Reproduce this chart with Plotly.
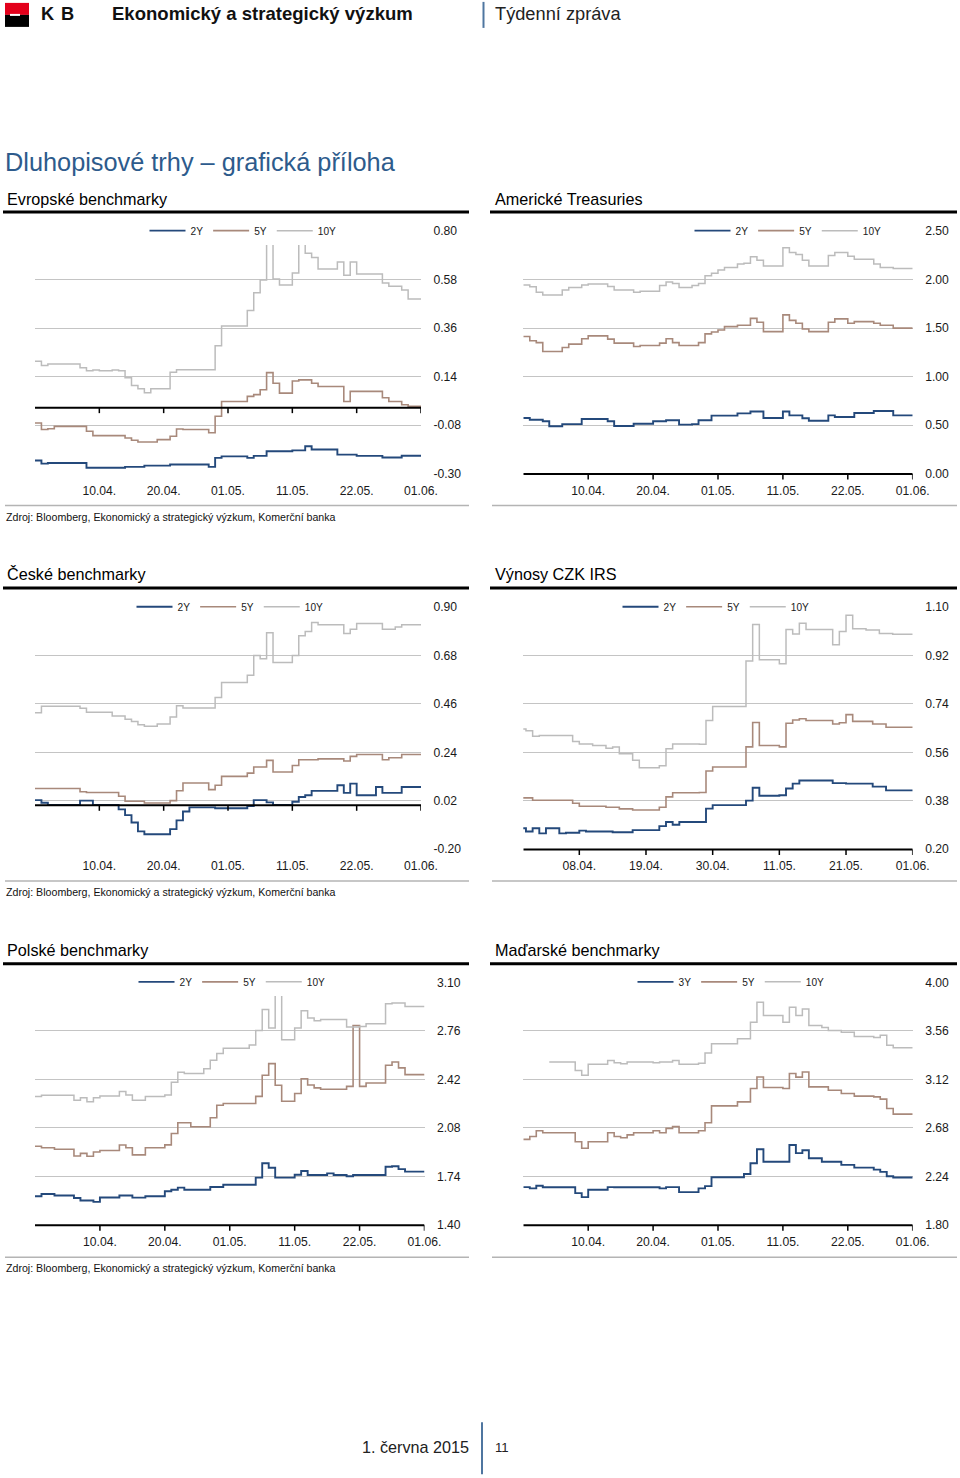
import plotly.graph_objects as go

W, H = 960, 1478
FONT = "Liberation Sans, Arial, Helvetica, sans-serif"

# ---------------- data (index of observations 0..60) ----------------
x_idx = list(range(61))

eur_2y = [-0.241, -0.255, -0.252, -0.252, -0.252, -0.252, -0.252, -0.252, -0.274, -0.274,
          -0.274, -0.274, -0.274, -0.274, -0.27, -0.27, -0.27, -0.264, -0.264, -0.264,
          -0.264, -0.259, -0.259, -0.259, -0.259, -0.259, -0.259, -0.27, -0.229, -0.222,
          -0.222, -0.222, -0.222, -0.229, -0.22, -0.22, -0.199, -0.199, -0.199, -0.199,
          -0.195, -0.195, -0.176, -0.191, -0.191, -0.191, -0.191, -0.214, -0.214, -0.214,
          -0.22, -0.22, -0.22, -0.22, -0.227, -0.227, -0.227, -0.219, -0.219, -0.219, -0.219]
eur_5y = [-0.071, -0.10, -0.097, -0.086, -0.086, -0.086, -0.086, -0.086, -0.108, -0.128,
          -0.128, -0.128, -0.128, -0.128, -0.139, -0.149, -0.157, -0.157, -0.157, -0.146,
          -0.146, -0.131, -0.098, -0.10, -0.10, -0.10, -0.10, -0.115, -0.04, 0.027,
          0.027, 0.027, 0.027, 0.05, 0.058, 0.08, 0.158, 0.11, 0.065, 0.065,
          0.12, 0.125, 0.125, 0.11, 0.095, 0.095, 0.095, 0.095, 0.027, 0.073,
          0.073, 0.073, 0.073, 0.073, 0.044, 0.027, 0.027, 0.012, 0.005, 0.005, 0.005]
eur_10y = [0.21, 0.19, 0.197, 0.197, 0.197, 0.197, 0.197, 0.18, 0.166, 0.17,
           0.166, 0.166, 0.17, 0.166, 0.135, 0.10, 0.085, 0.067, 0.085, 0.085,
           0.085, 0.16, 0.171, 0.171, 0.171, 0.171, 0.171, 0.171, 0.28, 0.37,
           0.37, 0.37, 0.37, 0.44, 0.52, 0.578, 0.74, 0.583, 0.556, 0.556,
           0.61, 0.74, 0.70, 0.68, 0.628, 0.628, 0.628, 0.66, 0.60, 0.66,
           0.605, 0.605, 0.605, 0.605, 0.565, 0.55, 0.55, 0.533, 0.492, 0.492, 0.492]

us_2y = [0.573, 0.555, 0.555, 0.54, 0.487, 0.487, 0.51, 0.51, 0.51, 0.563,
         0.563, 0.563, 0.563, 0.54, 0.49, 0.49, 0.49, 0.514, 0.514, 0.514,
         0.54, 0.54, 0.55, 0.55, 0.504, 0.504, 0.51, 0.55, 0.55, 0.597,
         0.597, 0.597, 0.597, 0.62, 0.62, 0.64, 0.64, 0.573, 0.573, 0.573,
         0.64, 0.60, 0.60, 0.57, 0.545, 0.545, 0.545, 0.60, 0.583, 0.583,
         0.583, 0.624, 0.624, 0.624, 0.645, 0.645, 0.645, 0.60, 0.60, 0.60, 0.60]
us_5y = [1.413, 1.37, 1.35, 1.258, 1.258, 1.258, 1.30, 1.335, 1.335, 1.39,
         1.42, 1.42, 1.42, 1.386, 1.345, 1.345, 1.345, 1.31, 1.32, 1.32,
         1.32, 1.345, 1.39, 1.35, 1.32, 1.32, 1.32, 1.35, 1.44, 1.46,
         1.48, 1.515, 1.515, 1.53, 1.53, 1.60, 1.56, 1.464, 1.464, 1.464,
         1.636, 1.58, 1.55, 1.49, 1.464, 1.464, 1.464, 1.56, 1.595, 1.595,
         1.55, 1.567, 1.567, 1.567, 1.55, 1.53, 1.53, 1.50, 1.50, 1.50, 1.50]
us_10y = [1.944, 1.927, 1.87, 1.842, 1.842, 1.842, 1.893, 1.92, 1.92, 1.944,
          1.955, 1.955, 1.955, 1.93, 1.893, 1.893, 1.893, 1.87, 1.88, 1.88,
          1.88, 1.94, 1.975, 1.96, 1.92, 1.92, 1.94, 1.96, 2.04, 2.065,
          2.10, 2.126, 2.126, 2.16, 2.17, 2.235, 2.20, 2.14, 2.14, 2.14,
          2.33, 2.28, 2.26, 2.20, 2.14, 2.14, 2.14, 2.25, 2.28, 2.28,
          2.24, 2.209, 2.209, 2.209, 2.16, 2.126, 2.126, 2.116, 2.116, 2.116, 2.116]

cz_2y = [0.022, 0.01, 0.0, 0.0, 0.0, 0.0, 0.0, 0.02, 0.02, 0.0,
         0.0, 0.0, 0.0, -0.02, -0.046, -0.08, -0.12, -0.133, -0.133, -0.133,
         -0.133, -0.11, -0.07, -0.03, -0.011, -0.011, -0.011, -0.011, -0.015, -0.015,
         -0.015, -0.015, -0.015, -0.005, 0.022, 0.022, 0.012, 0.0, 0.0, 0.0,
         0.015, 0.036, 0.044, 0.064, 0.064, 0.064, 0.064, 0.09, 0.055, 0.097,
         0.044, 0.044, 0.044, 0.082, 0.055, 0.055, 0.055, 0.082, 0.082, 0.082, 0.082]
cz_5y = [0.075, 0.075, 0.075, 0.075, 0.075, 0.075, 0.075, 0.06, 0.057, 0.057,
         0.057, 0.057, 0.057, 0.04, 0.017, 0.017, 0.017, 0.009, 0.009, 0.009,
         0.009, 0.02, 0.065, 0.10, 0.10, 0.10, 0.10, 0.07, 0.09, 0.13,
         0.13, 0.13, 0.13, 0.145, 0.173, 0.173, 0.203, 0.15, 0.15, 0.15,
         0.18, 0.206, 0.206, 0.206, 0.21, 0.21, 0.21, 0.21, 0.20, 0.221,
         0.23, 0.23, 0.23, 0.23, 0.206, 0.215, 0.215, 0.23, 0.23, 0.23, 0.23]
cz_10y = [0.42, 0.449, 0.449, 0.449, 0.449, 0.449, 0.449, 0.44, 0.422, 0.422,
          0.422, 0.422, 0.405, 0.405, 0.39, 0.38, 0.365, 0.358, 0.358, 0.369,
          0.369, 0.40, 0.452, 0.441, 0.441, 0.441, 0.441, 0.441, 0.489, 0.557,
          0.557, 0.557, 0.557, 0.59, 0.68, 0.665, 0.784, 0.648, 0.648, 0.648,
          0.68, 0.77, 0.79, 0.83, 0.82, 0.82, 0.82, 0.82, 0.78, 0.80,
          0.826, 0.826, 0.826, 0.826, 0.80, 0.80, 0.81, 0.82, 0.82, 0.82, 0.82]

irs_2y = [0.277, 0.277, 0.265, 0.277, 0.258, 0.277, 0.277, 0.258, 0.26, 0.26,
          0.268, 0.265, 0.265, 0.265, 0.265, 0.262, 0.262, 0.262, 0.27, 0.27,
          0.27, 0.27, 0.285, 0.30, 0.29, 0.30, 0.30, 0.30, 0.30, 0.35,
          0.363, 0.363, 0.363, 0.363, 0.363, 0.38, 0.428, 0.398, 0.398, 0.398,
          0.40, 0.425, 0.443, 0.455, 0.455, 0.455, 0.455, 0.455, 0.445, 0.445,
          0.443, 0.443, 0.443, 0.443, 0.432, 0.432, 0.418, 0.418, 0.418, 0.418, 0.418]
irs_5y = [0.39, 0.39, 0.39, 0.381, 0.381, 0.381, 0.381, 0.381, 0.381, 0.37,
          0.359, 0.359, 0.359, 0.359, 0.355, 0.355, 0.349, 0.349, 0.345, 0.345,
          0.345, 0.345, 0.355, 0.394, 0.409, 0.409, 0.409, 0.409, 0.41, 0.49,
          0.505, 0.505, 0.505, 0.505, 0.505, 0.58, 0.671, 0.585, 0.585, 0.585,
          0.58, 0.668, 0.68, 0.685, 0.678, 0.678, 0.678, 0.678, 0.665, 0.67,
          0.70, 0.675, 0.675, 0.675, 0.665, 0.665, 0.653, 0.653, 0.653, 0.653, 0.653]
irs_10y = [0.647, 0.647, 0.64, 0.62, 0.622, 0.622, 0.622, 0.622, 0.622, 0.60,
           0.591, 0.591, 0.585, 0.585, 0.575, 0.58, 0.554, 0.554, 0.53, 0.502,
           0.502, 0.502, 0.51, 0.573, 0.591, 0.591, 0.591, 0.591, 0.59, 0.678,
           0.73, 0.73, 0.73, 0.73, 0.73, 0.90, 1.036, 0.904, 0.904, 0.904,
           0.89, 1.017, 1.0, 1.04, 1.017, 1.017, 1.017, 1.017, 0.96, 1.01,
           1.07, 1.02, 1.02, 1.015, 1.015, 1.002, 1.002, 0.999, 0.999, 0.999, 0.999]

pl_2y = [1.60, 1.615, 1.615, 1.605, 1.605, 1.605, 1.587, 1.57, 1.57, 1.56,
         1.591, 1.591, 1.591, 1.605, 1.605, 1.59, 1.59, 1.60, 1.60, 1.60,
         1.635, 1.645, 1.66, 1.645, 1.645, 1.645, 1.645, 1.665, 1.665, 1.68,
         1.68, 1.68, 1.68, 1.68, 1.73, 1.831, 1.80, 1.73, 1.73, 1.73,
         1.75, 1.777, 1.749, 1.749, 1.749, 1.76, 1.749, 1.749, 1.74, 1.749,
         1.749, 1.749, 1.749, 1.749, 1.807, 1.81, 1.79, 1.772, 1.772, 1.772, 1.772]
pl_5y = [1.95, 1.94, 1.94, 1.929, 1.929, 1.929, 1.882, 1.90, 1.88, 1.91,
         1.92, 1.92, 1.92, 1.959, 1.94, 1.89, 1.89, 1.94, 1.94, 1.94,
         1.96, 2.04, 2.115, 2.115, 2.087, 2.087, 2.087, 2.15, 2.238, 2.25,
         2.25, 2.25, 2.25, 2.25, 2.30, 2.448, 2.53, 2.378, 2.266, 2.266,
         2.32, 2.424, 2.38, 2.36, 2.35, 2.35, 2.35, 2.35, 2.37, 2.797,
         2.37, 2.394, 2.394, 2.394, 2.518, 2.541, 2.50, 2.453, 2.453, 2.453, 2.453]
pl_10y = [2.30, 2.308, 2.308, 2.308, 2.308, 2.308, 2.273, 2.29, 2.262, 2.29,
          2.303, 2.303, 2.303, 2.335, 2.31, 2.273, 2.273, 2.30, 2.30, 2.30,
          2.31, 2.40, 2.47, 2.46, 2.46, 2.46, 2.494, 2.553, 2.60, 2.638,
          2.638, 2.638, 2.638, 2.66, 2.762, 2.91, 2.78, 3.02, 2.697, 2.697,
          2.78, 2.90, 2.85, 2.83, 2.84, 2.84, 2.84, 2.84, 2.786, 2.786,
          2.79, 2.81, 2.81, 2.81, 2.95, 2.955, 2.955, 2.93, 2.93, 2.93, 2.93]

hu_3y = [2.141, 2.13, 2.153, 2.14, 2.14, 2.14, 2.14, 2.14, 2.087, 2.05,
         2.117, 2.117, 2.117, 2.141, 2.14, 2.14, 2.14, 2.14, 2.14, 2.14,
         2.14, 2.13, 2.141, 2.141, 2.096, 2.096, 2.096, 2.13, 2.15, 2.231,
         2.231, 2.231, 2.231, 2.231, 2.26, 2.358, 2.485, 2.372, 2.372, 2.372,
         2.372, 2.523, 2.45, 2.476, 2.403, 2.403, 2.372, 2.372, 2.372, 2.343,
         2.343, 2.318, 2.318, 2.318, 2.30, 2.28, 2.24, 2.228, 2.228, 2.228, 2.228]
hu_5y = [2.575, 2.60, 2.653, 2.635, 2.635, 2.635, 2.635, 2.635, 2.553, 2.494,
         2.553, 2.553, 2.553, 2.635, 2.60, 2.59, 2.615, 2.635, 2.635, 2.635,
         2.653, 2.635, 2.674, 2.69, 2.635, 2.635, 2.635, 2.653, 2.725, 2.879,
         2.879, 2.879, 2.879, 2.915, 2.915, 3.036, 3.141, 3.045, 3.045, 3.045,
         3.036, 3.172, 3.14, 3.186, 3.051, 3.051, 3.051, 3.021, 3.021, 2.991,
         2.991, 2.967, 2.967, 2.967, 2.96, 2.94, 2.855, 2.804, 2.804, 2.804, 2.804]
hu_10y = [None, None, None, None, 3.277, 3.277, 3.277, 3.277, 3.20, 3.156,
          3.256, 3.256, 3.256, 3.29, 3.27, 3.26, 3.277, 3.277, 3.277, 3.277,
          3.27, 3.277, 3.277, 3.29, 3.256, 3.256, 3.256, 3.265, 3.358, 3.443,
          3.443, 3.443, 3.443, 3.488, 3.488, 3.638, 3.819, 3.699, 3.699, 3.699,
          3.638, 3.774, 3.699, 3.759, 3.608, 3.608, 3.59, 3.563, 3.563, 3.548,
          3.548, 3.509, 3.509, 3.509, 3.50, 3.52, 3.428, 3.407, 3.407, 3.407, 3.407]

# tick labels
eur_xlabels = ["10.04.", "20.04.", "01.05.", "11.05.", "22.05.", "01.06."]
irs_xlabels = ["08.04.", "19.04.", "30.04.", "11.05.", "21.05.", "01.06."]
x_tickpos = [10, 20, 30, 40, 50, 60]

eur_yticks = [-0.30, -0.08, 0.14, 0.36, 0.58, 0.80]
us_yticks = [0.00, 0.50, 1.00, 1.50, 2.00, 2.50]
cz_yticks = [-0.20, 0.02, 0.24, 0.46, 0.68, 0.90]
irs_yticks = [0.20, 0.38, 0.56, 0.74, 0.92, 1.10]
pl_yticks = [1.40, 1.74, 2.08, 2.42, 2.76, 3.10]
hu_yticks = [1.80, 2.24, 2.68, 3.12, 3.56, 4.00]

names_a = ["2Y", "5Y", "10Y"]
names_hu = ["3Y", "5Y", "10Y"]

# ---------------- styles ----------------
COLORS = ["#24497b", "#a8897b", "#bcbcbc"]
WIDTHS = [1.9, 1.6, 1.5]
GRID = "#c4c4c4"

# canvas calibration: the photographed page area is slightly larger than 960x1478
# and is scaled to fit, so the figure is built on that larger canvas.
SX, SY, OY = 960 / 977, 0.991, 6.1
FW, FH = 977, 1485
FS = 1.013  # font compensation for the scaling


def px(x):
    return (x / SX) / FW


def py(y):
    return 1 - ((y - OY) / SY) / FH


def fs(v):
    return round(v * FS, 2)


panels = [
    dict(title="Evropské benchmarky", tx=5, ty=199, xd=(35, 421), yd=(230.7, 474), xr=(0, 60),
         yt=eur_yticks, xl=eur_xlabels, names=names_a, data=[eur_2y, eur_5y, eur_10y], lx=243),
    dict(title="Americké Treasuries", tx=493, ty=199, xd=(523.3, 912.7), yd=(230.7, 474), xr=(0, 60),
         yt=us_yticks, xl=eur_xlabels, names=names_a, data=[us_2y, us_5y, us_10y], lx=788),
    dict(title="České benchmarky", tx=5, ty=574, xd=(35, 421), yd=(606.7, 849.3), xr=(0, 60),
         yt=cz_yticks, xl=eur_xlabels, names=names_a, data=[cz_2y, cz_5y, cz_10y], lx=230),
    dict(title="Výnosy CZK IRS", tx=493, ty=574, xd=(523.3, 912.7), yd=(606.7, 849.3), xr=(1.6, 60),
         yt=irs_yticks, xl=irs_xlabels, names=names_a, data=[irs_2y, irs_5y, irs_10y], lx=716),
    dict(title="Polské benchmarky", tx=5, ty=950, xd=(35, 424.5), yd=(981.7, 1225), xr=(0, 60),
         yt=pl_yticks, xl=eur_xlabels, names=names_a, data=[pl_2y, pl_5y, pl_10y], lx=232),
    dict(title="Maďarské benchmarky", tx=493, ty=950, xd=(523.3, 912.7), yd=(981.7, 1225), xr=(0, 60),
         yt=hu_yticks, xl=eur_xlabels, names=names_hu, data=[hu_3y, hu_5y, hu_10y], lx=731),
]

fig = go.Figure()
layout = dict(
    width=FW, height=FH, margin=dict(l=0, r=0, t=0, b=0),
    paper_bgcolor="white", plot_bgcolor="rgba(0,0,0,0)",
    hovermode=False, font=dict(family=FONT, color="#1a1a1a"),
)
shapes = []
annotations = []

for i, p in enumerate(panels):
    s = "" if i == 0 else str(i + 1)
    xa, ya = "x" + s, "y" + s
    lg = "legend" + s
    lo, hi = p["yt"][0], p["yt"][-1]
    span = hi - lo
    for k in range(3):
        fig.add_trace(go.Scatter(
            x=x_idx, y=p["data"][k], mode="lines", name=p["names"][k],
            line=dict(color=COLORS[k], width=WIDTHS[k], shape="hv"),
            xaxis=xa, yaxis=ya, legend=lg, showlegend=True,
        ))
    layout["xaxis" + s] = dict(
        domain=[px(p["xd"][0]), px(p["xd"][1])], anchor=ya, range=list(p["xr"]),
        tickvals=x_tickpos, ticktext=p["xl"], showgrid=False, zeroline=False, showline=False,
        ticks="outside", ticklen=5, tickcolor="rgba(0,0,0,0)",
        tickfont=dict(size=fs(12), family=FONT, color="#1a1a1a"), fixedrange=True,
    )
    layout["yaxis" + s] = dict(
        domain=[py(p["yd"][1]), py(p["yd"][0])], anchor=xa, side="right",
        range=[lo - span * 0.002, hi + span * 0.002],
        tickvals=p["yt"], ticktext=["%.2f" % v for v in p["yt"]],
        showgrid=True, gridcolor=GRID, gridwidth=1.2, zeroline=False, showline=False,
        ticks="outside", ticklen=9, tickcolor="rgba(0,0,0,0)",
        tickfont=dict(size=fs(12), family=FONT, color="#1a1a1a"), fixedrange=True,
    )
    layout[lg] = dict(
        x=px(p["lx"]), y=py(p["yd"][0]), xanchor="center", yanchor="middle",
        orientation="h", bgcolor="white", borderwidth=0,
        font=dict(size=fs(10), family=FONT, color="#1a1a1a"), itemwidth=36,
        tracegroupgap=0, itemclick=False, itemdoubleclick=False,
    )
    # black axis line at zero (or at the bottom) with tick marks
    base = 0.0 if lo < 0 else lo
    ybase = p["yd"][0] + (hi - base) / span * (p["yd"][1] - p["yd"][0])
    shapes.append(dict(type="line", xref=xa, yref="paper", x0=p["xr"][0], x1=p["xr"][1],
                       y0=py(ybase), y1=py(ybase), line=dict(color="black", width=2)))
    for tv in x_tickpos:
        shapes.append(dict(type="line", xref=xa, yref="paper", x0=tv, x1=tv,
                           y0=py(ybase), y1=py(ybase + 5.5), line=dict(color="black", width=1.5)))
    # section title
    annotations.append(dict(text=p["title"], x=px(p["tx"]), y=py(p["ty"]), xref="paper", yref="paper",
                            xanchor="left", yanchor="middle", showarrow=False,
                            font=dict(size=fs(16), family=FONT, color="#000000")))

# section rules and separators
for yrule, ysep in [(212, 505.5), (588, 881), (963.5, 1257)]:
    for x0, x1 in [(3, 469), (490, 957)]:
        shapes.append(dict(type="line", xref="paper", yref="paper", x0=px(x0), x1=px(x1),
                           y0=py(yrule), y1=py(yrule), line=dict(color="black", width=3)))
        shapes.append(dict(type="line", xref="paper", yref="paper", x0=px(x0 + 2), x1=px(x1),
                           y0=py(ysep), y1=py(ysep), line=dict(color="#b4b4b4", width=1.5)))

source_text = "Zdroj: Bloomberg, Ekonomický a strategický výzkum, Komerční banka"
for yz in [517, 892, 1268]:
    annotations.append(dict(text=source_text, x=px(4), y=py(517 if yz == 517 else yz), xref="paper",
                            yref="paper", xanchor="left", yanchor="middle", showarrow=False,
                            font=dict(size=fs(10.5), family=FONT, color="#111111")))

# header
shapes += [
    dict(type="rect", xref="paper", yref="paper", x0=px(5), x1=px(29), y0=py(3), y1=py(15),
         fillcolor="#e3001b", line=dict(width=0)),
    dict(type="rect", xref="paper", yref="paper", x0=px(5), x1=px(29), y0=py(15), y1=py(27),
         fillcolor="black", line=dict(width=0)),
    dict(type="rect", xref="paper", yref="paper", x0=px(10), x1=px(20), y0=py(14), y1=py(16),
         fillcolor="white", line=dict(width=0)),
    dict(type="line", xref="paper", yref="paper", x0=px(483.5), x1=px(483.5), y0=py(2), y1=py(28),
         line=dict(color="#4f76a0", width=2)),
    dict(type="line", xref="paper", yref="paper", x0=px(482), x1=px(482), y0=py(1422), y1=py(1474),
         line=dict(color="#4f76a0", width=2)),
]
annotations += [
    dict(text="<b>K</b>", x=px(39), y=py(14), xref="paper", yref="paper", xanchor="left",
         yanchor="middle", showarrow=False, font=dict(size=fs(18), family=FONT, color="#111")),
    dict(text="<b>B</b>", x=px(59), y=py(14), xref="paper", yref="paper", xanchor="left",
         yanchor="middle", showarrow=False, font=dict(size=fs(18), family=FONT, color="#111")),
    dict(text="<b>Ekonomický a strategický výzkum</b>", x=px(109.5), y=py(14), xref="paper", yref="paper",
         xanchor="left", yanchor="middle", showarrow=False, font=dict(size=fs(18.3), family=FONT, color="#111")),
    dict(text="Týdenní zpráva", x=px(493), y=py(14), xref="paper", yref="paper",
         xanchor="left", yanchor="middle", showarrow=False, font=dict(size=fs(18), family=FONT, color="#222")),
    dict(text="Dluhopisové trhy – grafická příloha", x=px(2.5), y=py(162), xref="paper", yref="paper",
         xanchor="left", yanchor="middle", showarrow=False, font=dict(size=fs(25), family=FONT, color="#2d5b8c")),
    dict(text="1. června 2015", x=px(471), y=py(1447), xref="paper", yref="paper",
         xanchor="right", yanchor="middle", showarrow=False, font=dict(size=fs(16), family=FONT, color="#222")),
    dict(text="11", x=px(493), y=py(1447), xref="paper", yref="paper",
         xanchor="left", yanchor="middle", showarrow=False, font=dict(size=fs(13), family=FONT, color="#222")),
]

layout["shapes"] = shapes
layout["annotations"] = annotations
fig.update_layout(**layout)

page_fix = (
    "var gd=document.getElementById('{plot_id}');"
    "document.body.style.margin='0';document.body.style.padding='0';"
    "document.body.style.overflow='hidden';"
    "gd.style.position='absolute';gd.style.left='0px';gd.style.top='0px';"
)
fig.write_html("out.html", post_script=page_fix, config={"displayModeBar": False})
